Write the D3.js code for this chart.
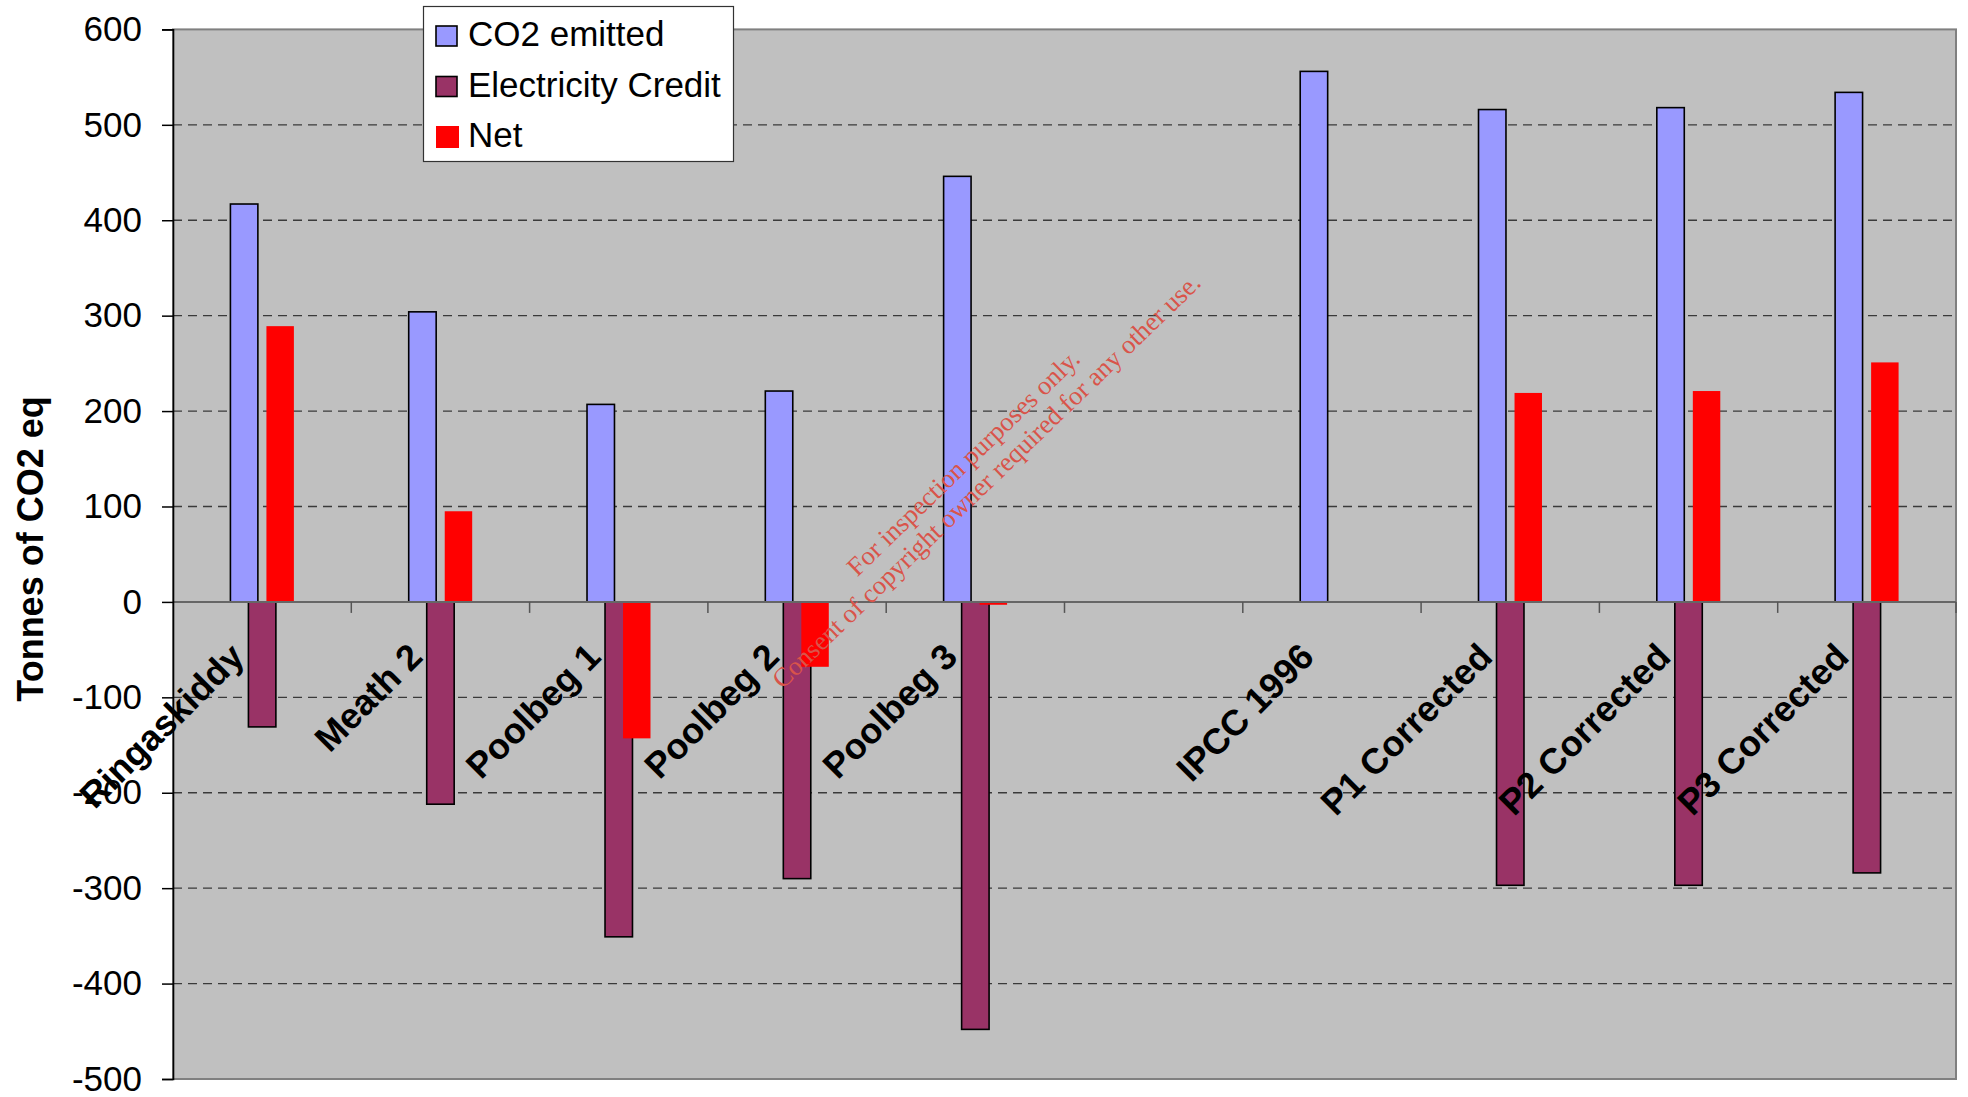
<!DOCTYPE html>
<html>
<head>
<meta charset="utf-8">
<script src="https://cdn.jsdelivr.net/npm/d3@7"></script>
<style>
  html, body { margin: 0; padding: 0; background: #ffffff; }
  svg { display: block; }
  text { font-family: "Liberation Sans", Arial, sans-serif; }
</style>
</head>
<body>
<svg id="chart" width="1968" height="1097"></svg>
<script>
// Plant categories (one slot left empty as a spacer between measured and corrected cases)
const categories = ["Ringaskiddy", "Meath 2", "Poolbeg 1", "Poolbeg 2", "Poolbeg 3", "",
                    "IPCC 1996", "P1 Corrected", "P2 Corrected", "P3 Corrected"];

// Tonnes of CO2 eq per series
const co2Emitted        = [417, 304, 207, 221, 446, null, 556, 516, 518, 534];
const electricityCredit = [-131, -212, -351, -290, -448, null, null, -297, -297, -284];
const netValues         = [289, 95, -143, -68, -3, null, null, 219, 221, 251];

const seriesNames = ["CO2 emitted", "Electricity Credit", "Net"];
const yTicks = [-500, -400, -300, -200, -100, 0, 100, 200, 300, 400, 500, 600];

const series = [
  { name: seriesNames[0], values: co2Emitted,        fill: "#9999FF", stroke: "#000000" },
  { name: seriesNames[1], values: electricityCredit, fill: "#993366", stroke: "#000000" },
  { name: seriesNames[2], values: netValues,         fill: "#FF0000", stroke: "none" }
];

const svg = d3.select("#chart");
const plot = { left: 173, right: 1956, top: 29.4, bottom: 1079 };

const x = d3.scaleBand()
  .domain(d3.range(categories.length))
  .range([plot.left, plot.right])
  .paddingInner(0).paddingOuter(0);

const y = d3.scaleLinear()
  .domain([-500, 600])
  .range([plot.bottom, plot.top]);

// Plot background
svg.append("rect")
  .attr("x", plot.left).attr("y", plot.top)
  .attr("width", plot.right - plot.left).attr("height", plot.bottom - plot.top)
  .attr("fill", "#C0C0C0")
  .attr("stroke", "#808080").attr("stroke-width", 2);

// Dashed horizontal gridlines
svg.append("g")
  .selectAll("line")
  .data(yTicks.filter(v => v !== 0 && v !== -500 && v !== 600))
  .join("line")
  .attr("x1", plot.left).attr("x2", plot.right)
  .attr("y1", d => y(d)).attr("y2", d => y(d))
  .attr("stroke", "#3a3a3a").attr("stroke-width", 1.3)
  .attr("stroke-dasharray", "9,6");

// Bars: overlapping clustered layout within each category
const bw = x.bandwidth();
const barW = bw * 0.154;
const stride = bw * 0.101;

series.forEach((s, k) => {
  svg.append("g")
    .selectAll("rect")
    .data(s.values.map((v, i) => ({ i, v })).filter(d => d.v !== null))
    .join("rect")
    .attr("x", d => x(d.i) + bw / 2 + (k - 1) * stride - barW / 2)
    .attr("y", d => y(Math.max(0, d.v)))
    .attr("width", barW)
    .attr("height", d => Math.abs(y(d.v) - y(0)))
    .attr("fill", s.fill)
    .attr("stroke", s.stroke)
    .attr("stroke-width", 1.6);
});

// Zero baseline with category tick marks
svg.append("line")
  .attr("x1", plot.left).attr("x2", plot.right)
  .attr("y1", y(0)).attr("y2", y(0))
  .attr("stroke", "#666666").attr("stroke-width", 2);

svg.append("g")
  .selectAll("line")
  .data(d3.range(1, categories.length + 1))
  .join("line")
  .attr("x1", i => plot.left + i * bw).attr("x2", i => plot.left + i * bw)
  .attr("y1", y(0)).attr("y2", y(0) + 11)
  .attr("stroke", "#555555").attr("stroke-width", 1.5);

// Y axis (plain hyphen for negatives)
const yAxis = d3.axisLeft(y)
  .tickValues(yTicks)
  .tickSize(11)
  .tickPadding(20)
  .tickFormat(d => String(d));

const yAxisG = svg.append("g")
  .attr("transform", `translate(${plot.left},0)`)
  .call(yAxis);
yAxisG.select(".domain").attr("stroke", "#000").attr("stroke-width", 1.6);
yAxisG.selectAll(".tick line").attr("stroke", "#000").attr("stroke-width", 1.5);
yAxisG.selectAll(".tick text")
  .attr("font-family", "'Liberation Sans', Arial, sans-serif")
  .attr("font-size", 35)
  .attr("fill", "#000");

// Y axis title
svg.append("text")
  .attr("transform", "translate(43,549) rotate(-90)")
  .attr("text-anchor", "middle")
  .attr("font-size", 36)
  .attr("font-weight", "bold")
  .attr("fill", "#000")
  .text("Tonnes of CO2 eq");

// Category labels, rotated
svg.append("g")
  .selectAll("text")
  .data(categories.map((c, i) => ({ c, i })).filter(d => d.c !== ""))
  .join("text")
  .attr("transform", d => `translate(${x(d.i) + bw / 2 - 16},${y(0) + 57}) rotate(-45)`)
  .attr("text-anchor", "end")
  .attr("font-size", 36)
  .attr("font-weight", "bold")
  .attr("fill", "#000")
  .text(d => d.c);

// Inspection notice across the plot
const note = svg.append("g")
  .attr("transform", "translate(975,472) rotate(-44)")
  .attr("fill", "#d9544a")
  .attr("font-size", 26.5)
  .attr("text-anchor", "middle");
note.append("text").attr("x", -2).attr("y", -6).style("font-family", "'Liberation Serif', 'Times New Roman', serif")
  .text("For inspection purposes only.");
note.append("text").attr("x", 2).attr("y", 23).style("font-family", "'Liberation Serif', 'Times New Roman', serif")
  .text("Consent of copyright owner required for any other use.");

// Legend
const legend = svg.append("g");
legend.append("rect")
  .attr("x", 423.5).attr("y", 6.5).attr("width", 310).attr("height", 155)
  .attr("fill", "#ffffff").attr("stroke", "#333333").attr("stroke-width", 1.2);

const rowY = [36, 86.5, 137];
series.forEach((s, k) => {
  const g = legend.append("g").attr("transform", `translate(0,${rowY[k]})`);
  if (s.stroke === "none") {
    g.append("rect").attr("x", 436).attr("y", -11).attr("width", 23).attr("height", 22).attr("fill", s.fill);
  } else {
    g.append("rect").attr("x", 436).attr("y", -10).attr("width", 21).attr("height", 20)
      .attr("fill", s.fill).attr("stroke", "#000").attr("stroke-width", 1.6);
  }
  g.append("text")
    .attr("x", 468).attr("y", 10)
    .attr("font-size", 35)
    .attr("fill", "#000")
    .text(s.name);
});
</script>
</body>
</html>
